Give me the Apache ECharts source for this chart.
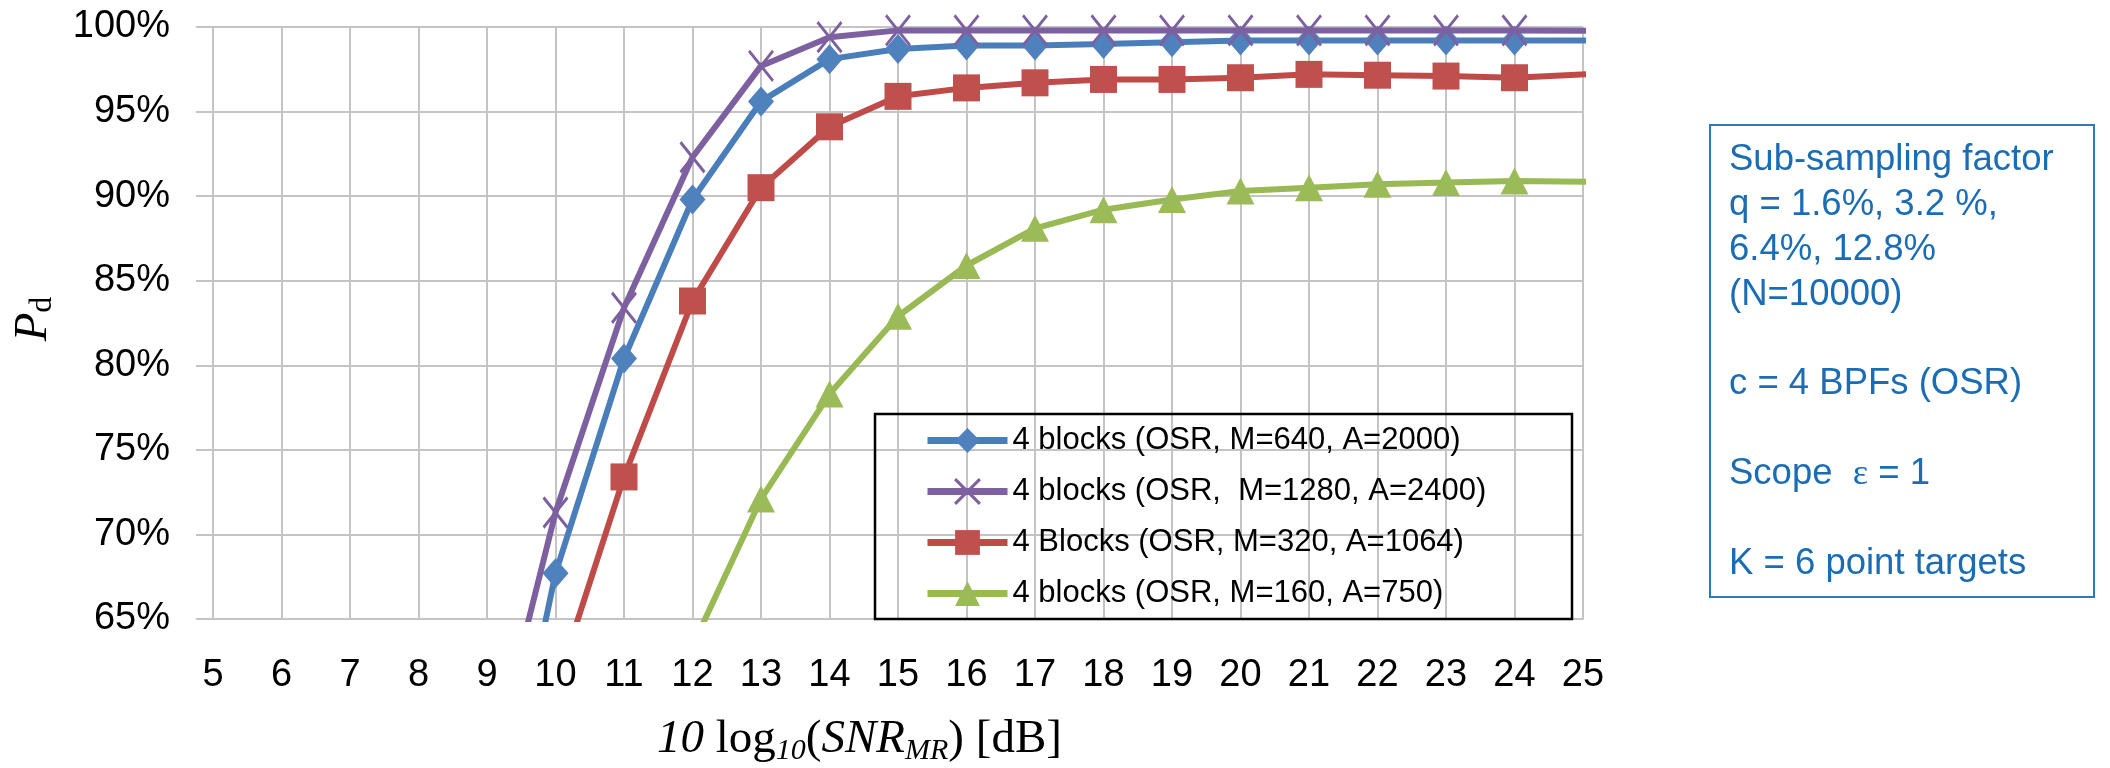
<!DOCTYPE html>
<html>
<head>
<meta charset="utf-8">
<script src="https://cdn.jsdelivr.net/npm/echarts@6/dist/echarts.min.js"></script>
<style>
html,body{margin:0;padding:0;background:#fff;}
#chart{width:2110px;height:768px;}
</style>
</head>
<body>
<div id="chart"></div>
<script>
// SNR values (dB); 26 lies past the axis end so the lines run to the right edge
const snr = [9, 10, 11, 12, 13, 14, 15, 16, 17, 18, 19, 20, 21, 22, 23, 24, 26];
const seriesNames = [
  '4 blocks (OSR, M=640, A=2000)',
  '4 blocks (OSR,  M=1280, A=2400)',
  '4 Blocks (OSR, M=320, A=1064)',
  '4 blocks (OSR, M=160, A=750)'
];
// Pd in percent (values below 65% are hidden under the axis floor)
const pdM640  = [48.4, 67.7, 80.4, 89.8, 95.6, 98.1, 98.7, 98.9, 98.9, 99.0, 99.1, 99.2, 99.2, 99.2, 99.2, 99.2, 99.2];
const pdM1280 = [55.1, 71.3, 83.4, 92.3, 97.7, 99.4, 99.8, 99.8, 99.8, 99.8, 99.8, 99.8, 99.8, 99.8, 99.8, 99.8, 99.75];
const pdM320  = [null, 60.9, 73.4, 83.8, 90.5, 94.1, 95.9, 96.4, 96.7, 96.9, 96.9, 97.0, 97.2, 97.15, 97.1, 97.0, 97.4];
const pdM160  = [null, null, null, 63.4, 72.1, 78.3, 82.9, 85.9, 88.1, 89.2, 89.8, 90.3, 90.5, 90.7, 90.8, 90.9, 90.8];
const xTicks = {min: 5, max: 25, step: 1};
const yTicks = {min: 65, max: 100, step: 5};
const noteLines = [
  'Sub-sampling factor',
  'q = 1.6%, 3.2 %,',
  '6.4%, 12.8%',
  '(N=10000)',
  '',
  'c = 4 BPFs (OSR)',
  '',
  'Scope  {e|ε} = 1',
  '',
  'K = 6 point targets'
];

function pairs(ys) {
  const out = [];
  for (let i = 0; i < snr.length; i++) if (ys[i] !== null) out.push([snr[i], ys[i]]);
  return out;
}

const colors = {
  blue:   {line: '#4A7EBB', fill: '#4F81BD'},
  purple: {line: '#7D60A0', fill: '#7D60A0'},
  red:    {line: '#BE4B48', fill: '#C0504D'},
  green:  {line: '#98B954', fill: '#9BBB59'}
};
const xSym = 'path://M0,0L20,28M20,0L0,28';
const defs = [
  {data: pdM640,  c: colors.blue,   symbol: 'diamond',  size: [26, 30], bw: 0},
  {data: pdM1280, c: colors.purple, symbol: xSym,       size: [24, 30], bw: 3},
  {data: pdM320,  c: colors.red,    symbol: 'rect',     size: [27, 27], bw: 0},
  {data: pdM160,  c: colors.green,  symbol: 'triangle', size: [28, 27], bw: 0}
];

const grid = {left: 213, right: 527, top: 27, bottom: 149};
const gridColor = '#c4c4c4';
const sans = 'Liberation Sans';
const serif = 'Liberation Serif';

const series = defs.map((d, i) => ({
  name: seriesNames[i],
  type: 'line',
  data: pairs(d.data),
  symbol: d.symbol,
  symbolSize: d.size,
  showAllSymbol: true,
  clip: true,
  lineStyle: {color: d.c.line, width: 6},
  itemStyle: {color: d.c.fill, borderColor: d.c.fill, borderWidth: d.bw},
  emphasis: {disabled: true},
  z: 2 + i
}));

const option = {
  animation: false,
  backgroundColor: '#ffffff',
  grid: grid,
  xAxis: {
    type: 'value', min: xTicks.min, max: xTicks.max, interval: xTicks.step,
    axisLine: {show: true, lineStyle: {color: gridColor, width: 2}},
    axisTick: {show: false},
    splitLine: {show: true, lineStyle: {color: gridColor, width: 2}},
    axisLabel: {fontFamily: sans, fontSize: 38, color: '#000', margin: 38}
  },
  yAxis: {
    type: 'value', min: yTicks.min, max: yTicks.max, interval: yTicks.step,
    axisLine: {show: true, lineStyle: {color: gridColor, width: 2}},
    axisTick: {show: true, length: 17, lineStyle: {color: gridColor, width: 2}},
    splitLine: {show: true, lineStyle: {color: gridColor, width: 2}},
    axisLabel: {fontFamily: sans, fontSize: 38, color: '#000', margin: 43, formatter: '{value}%'}
  },
  legend: {
    orient: 'vertical', left: 924, top: 425,
    itemWidth: 80, itemHeight: 31, itemGap: 20, padding: 0,
    textStyle: {fontFamily: sans, fontSize: 31, color: '#000'},
    data: defs.map((d, i) => ({
      name: seriesNames[i],
      itemStyle: {color: d.c.fill, borderColor: d.c.fill, borderWidth: d.bw},
      lineStyle: {color: d.c.line, width: 7}
    }))
  },
  graphic: [
    {type: 'rect', silent: true, z: 1,
     shape: {x: 875, y: 414, width: 697, height: 205},
     style: {fill: 'rgba(255,255,255,0)', stroke: '#000', lineWidth: 2.5}},
    {type: 'text', silent: true, x: 657, y: 714,
     style: {
       text: '{i|10}{r| log}{s|10}{r|(}{i|SNR}{s|MR}{r|) [dB]}',
       align: 'left', verticalAlign: 'top',
       rich: {
         i: {fontFamily: serif, fontStyle: 'italic', fontSize: 47, lineHeight: 52, fill: '#000'},
         r: {fontFamily: serif, fontSize: 47, lineHeight: 52, fill: '#000'},
         s: {fontFamily: serif, fontStyle: 'italic', fontSize: 30, lineHeight: 18, verticalAlign: 'bottom', fill: '#000'}
       }
     }},
    {type: 'text', silent: true, x: 34, y: 319, rotation: Math.PI / 2,
     style: {
       text: '{p|P}{d|d}',
       align: 'center', verticalAlign: 'middle',
       rich: {
         p: {fontFamily: serif, fontStyle: 'italic', fontSize: 47, lineHeight: 50, fill: '#000'},
         d: {fontFamily: serif, fontSize: 32, lineHeight: 18, verticalAlign: 'bottom', fill: '#000'}
       }
     }},
    {type: 'rect', silent: true,
     shape: {x: 1710, y: 125, width: 384, height: 472},
     style: {fill: '#fff', stroke: '#2F78BE', lineWidth: 2}},
    {type: 'text', silent: true, x: 1729, y: 138,
     style: {
       text: noteLines.join('\n'),
       align: 'left', verticalAlign: 'top',
       fontFamily: sans, fontSize: 36.5, lineHeight: 44.8, fill: '#1A6DB5',
       rich: {
         e: {fontFamily: serif, fontSize: 36.5, lineHeight: 44.8, fill: '#1A6DB5'}
       }
     }}
  ],
  series: series
};

const chart = echarts.init(document.getElementById('chart'), null, {renderer: 'canvas'});
chart.setOption(option);
</script>
</body>
</html>
